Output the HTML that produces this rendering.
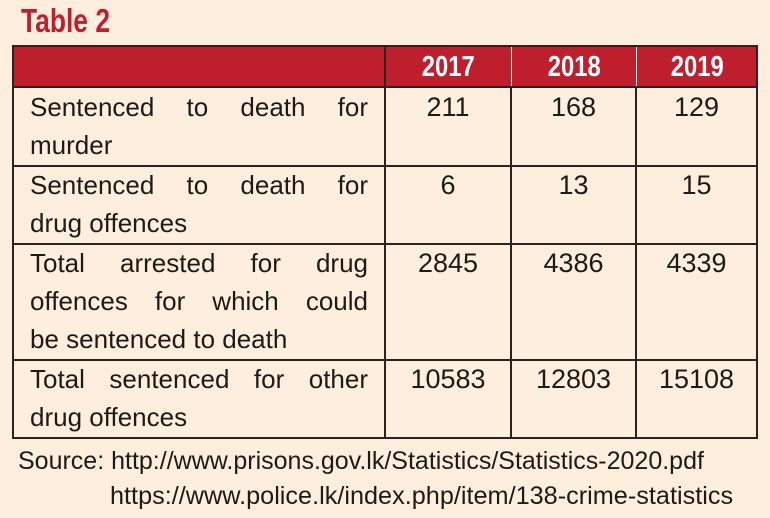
<!DOCTYPE html>
<html><head><meta charset="utf-8"><style>
body{margin:0;width:770px;height:518px;background:#fdeedd;font-family:"Liberation Sans",sans-serif;position:relative;overflow:hidden}
.title{position:absolute;left:21px;top:2px;color:#c01f2e;font-weight:bold;font-size:33px;transform:scaleX(0.8);transform-origin:left top}
.hdr{position:absolute;left:13px;top:45px;width:744px;height:42px;background:#bf1e2d}
.yr{position:absolute;top:45px;height:42px;line-height:44px;color:#fff;font-weight:bold;font-size:29px;text-align:center}
.yr span{display:inline-block;transform:scaleX(0.82)}
.hl{position:absolute;height:2px;background:#2a2220;left:13px;width:744px}
.vl{position:absolute;width:2px;background:#2a2220}
.lab{position:absolute;left:30px;width:338px;font-size:26px;line-height:38px;text-align:justify;text-align-last:left;color:#1e1a18}
.lab .j{display:block;text-align:justify;text-align-last:justify}
.num{position:absolute;font-size:27px;line-height:38px;text-align:center;color:#1e1a18}
.src{position:absolute;font-size:25px;color:#1e1a18;white-space:nowrap;transform-origin:left top}
</style></head><body>
<div class="title">Table 2</div>
<div class="hdr"></div>
<div class="yr" style="left:385px;width:127px"><span>2017</span></div>
<div class="yr" style="left:512px;width:125px"><span>2018</span></div>
<div class="yr" style="left:637px;width:120px"><span>2019</span></div>
<div class="vl" style="left:511px;top:45px;height:42px;background:#fff;width:1px"></div>
<div class="vl" style="left:636px;top:45px;height:42px;background:#fff;width:1px"></div>

<div class="hl" style="top:45px"></div>
<div class="hl" style="top:86px"></div>
<div class="hl" style="top:165px"></div>
<div class="hl" style="top:243px"></div>
<div class="hl" style="top:359px"></div>
<div class="hl" style="top:437px"></div>
<div class="vl" style="left:12px;top:45px;height:394px"></div>
<div class="vl" style="left:384px;top:45px;height:394px"></div>
<div class="vl" style="left:510px;top:87px;height:352px"></div>
<div class="vl" style="left:635px;top:87px;height:352px"></div>
<div class="vl" style="left:756px;top:45px;height:394px"></div>

<div class="lab" style="top:88px"><span class="j">Sentenced to death for</span>murder</div>
<div class="lab" style="top:166px"><span class="j">Sentenced to death for</span>drug offences</div>
<div class="lab" style="top:244px"><span class="j">Total arrested for drug</span><span class="j">offences for which could</span>be sentenced to death</div>
<div class="lab" style="top:360px"><span class="j">Total sentenced for other</span>drug offences</div>

<div class="num" style="left:385px;width:126px;top:88px">211</div>
<div class="num" style="left:511px;width:125px;top:88px">168</div>
<div class="num" style="left:636px;width:121px;top:88px">129</div>
<div class="num" style="left:385px;width:126px;top:166px">6</div>
<div class="num" style="left:511px;width:125px;top:166px">13</div>
<div class="num" style="left:636px;width:121px;top:166px">15</div>
<div class="num" style="left:385px;width:126px;top:244px">2845</div>
<div class="num" style="left:511px;width:125px;top:244px">4386</div>
<div class="num" style="left:636px;width:121px;top:244px">4339</div>
<div class="num" style="left:385px;width:126px;top:360px">10583</div>
<div class="num" style="left:511px;width:125px;top:360px">12803</div>
<div class="num" style="left:636px;width:121px;top:360px">15108</div>

<div class="src" style="left:18px;top:447px;transform:scaleX(1.0)">Source: http://www.prisons.gov.lk/Statistics/Statistics-2020.pdf</div>
<div class="src" style="left:110px;top:482px;transform:scaleX(1.01)">https://www.police.lk/index.php/item/138-crime-statistics</div>
</body></html>
